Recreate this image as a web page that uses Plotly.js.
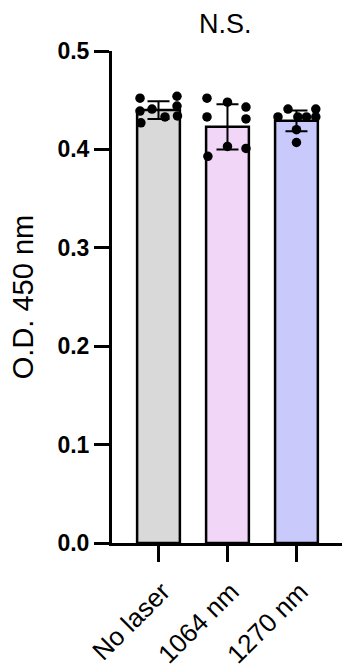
<!DOCTYPE html>
<html>
<head>
<meta charset="utf-8">
<script src="https://cdn.plot.ly/plotly-3.0.1.min.js"></script>
<style>html,body{margin:0;padding:0;background:#fff;}#chart{width:342px;height:671px;}</style>
</head>
<body>
<div id="chart"></div>
<script>
// Data
const categories = ["No laser", "1064 nm", "1270 nm"];
const barMeans = [0.440, 0.423, 0.429];
const barSD = [0.009, 0.023, 0.0105];
const barColors = ["#d9d9d9", "#f1d6f7", "#c9cafb"];
const pointsNoLaser = [0.452, 0.439, 0.427, 0.441, 0.433, 0.454, 0.444, 0.434];
const jitterNoLaser = [-0.268, -0.268, -0.255, -0.094, 0.094, 0.268, 0.268, 0.275];
const points1064 = [0.452, 0.448, 0.443, 0.433, 0.431, 0.403, 0.401, 0.393];
const jitter1064 = [-0.297, 0.0, 0.268, -0.297, 0.268, 0.0, 0.268, -0.284];
const points1270 = [0.433, 0.441, 0.433, 0.433, 0.441, 0.433, 0.420, 0.407];
const jitter1270 = [-0.268, -0.123, 0.02, 0.145, 0.28, 0.28, 0.0, 0.0];
const yTicks = [0, 0.1, 0.2, 0.3, 0.4, 0.5];
const yTickText = ["0.0", "0.1", "0.2", "0.3", "0.4", "0.5"];

const catIdx = categories.map((c, i) => i);
const font = "Liberation Sans, Arial, sans-serif";

const traces = [{
  type: "bar",
  x: catIdx,
  y: barMeans,
  width: 0.62,
  marker: {color: barColors, line: {color: "#000", width: 2.5}},
  error_y: {type: "data", array: barSD, visible: true, color: "#000", thickness: 2, width: 11},
  hoverinfo: "skip"
}];
const groups = [[pointsNoLaser, jitterNoLaser], [points1064, jitter1064], [points1270, jitter1270]];
groups.forEach((g, i) => {
  traces.push({
    type: "scatter", mode: "markers",
    x: g[1].map(j => i + j),
    y: g[0],
    marker: {color: "#000", size: 9.5},
    hoverinfo: "skip"
  });
});

const layout = {
  width: 342, height: 671,
  margin: {l: 112, r: 0, t: 51, b: 128},
  paper_bgcolor: "#fff", plot_bgcolor: "#fff",
  showlegend: false,
  xaxis: {
    range: [-0.674, 2.66],
    tickvals: catIdx, ticktext: categories,
    tickangle: -45,
    ticks: "outside", ticklen: 16, tickwidth: 3, tickcolor: "#000",
    ticklabelstandoff: 4,
    ticklabelshift: 4,
    showline: true, linewidth: 3, linecolor: "#000",
    showgrid: false, zeroline: false,
    tickfont: {family: font, size: 26, color: "#000"}
  },
  yaxis: {
    range: [0, 0.5],
    tickvals: yTicks, ticktext: yTickText,
    ticks: "outside", ticklen: 15, tickwidth: 3, tickcolor: "#000",
    showline: true, linewidth: 3, linecolor: "#000",
    showgrid: false, zeroline: false,
    tickfont: {family: font, size: 23, color: "#000", weight: "bold"},
    title: {text: "O.D. 450 nm", font: {family: font, size: 29, color: "#000"}, standoff: 16}
  },
  annotations: [{
    text: "N.S.", xref: "x", yref: "paper", x: 0.97, y: 1, yanchor: "middle", yshift: 27,
    showarrow: false, font: {family: font, size: 27, color: "#000"}
  }]
};
Plotly.newPlot("chart", traces, layout, {displayModeBar: false, staticPlot: true});
</script>
</body>
</html>
